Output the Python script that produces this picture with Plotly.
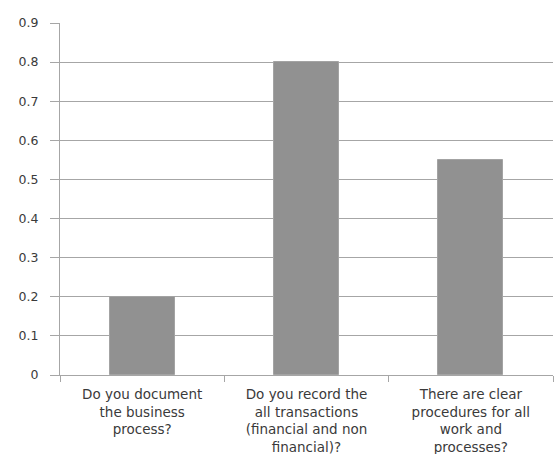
import plotly.graph_objects as go

categories = [
    "Do you document<br>the business<br>process?",
    "Do you record the<br>all transactions<br>(financial and non<br>financial)?",
    "There are clear<br>procedures for all<br>work and<br>processes?",
]
values = [0.2, 0.8, 0.55]
y_ticks = [0, 0.1, 0.2, 0.3, 0.4, 0.5, 0.6, 0.7, 0.8, 0.9]
y_tick_labels = ["0", "0.1", "0.2", "0.3", "0.4", "0.5", "0.6", "0.7", "0.8", "0.9"]

axis_grey = "#a6a6a6"
text_grey = "#3a3a3a"

fig = go.Figure(
    go.Bar(
        x=categories,
        y=values,
        width=0.395,
        marker=dict(color="#919191", line=dict(color="#a3a3a3", width=1)),
    )
)

fig.update_layout(
    width=554,
    height=454,
    margin=dict(l=60, r=1, t=23, b=79),
    paper_bgcolor="white",
    plot_bgcolor="white",
    showlegend=False,
    font=dict(family="DejaVu Sans", color=text_grey),
    bargap=0,
)

fig.update_xaxes(
    type="category",
    automargin=False,
    showline=True,
    linecolor=axis_grey,
    linewidth=1,
    showgrid=False,
    ticks="outside",
    tickson="boundaries",
    ticklen=6,
    tickcolor=axis_grey,
    tickfont=dict(size=13.5, color=text_grey),
    ticklabelstandoff=7,
)

fig.update_yaxes(
    range=[0, 0.9],
    automargin=False,
    tickvals=y_ticks,
    ticktext=y_tick_labels,
    showline=True,
    linecolor=axis_grey,
    linewidth=1,
    showgrid=True,
    gridcolor=axis_grey,
    gridwidth=1,
    zeroline=False,
    ticks="outside",
    ticklen=9,
    tickcolor=axis_grey,
    tickfont=dict(size=12.5, color=text_grey),
    ticklabelstandoff=9,
)

fig.write_html("out.html")
